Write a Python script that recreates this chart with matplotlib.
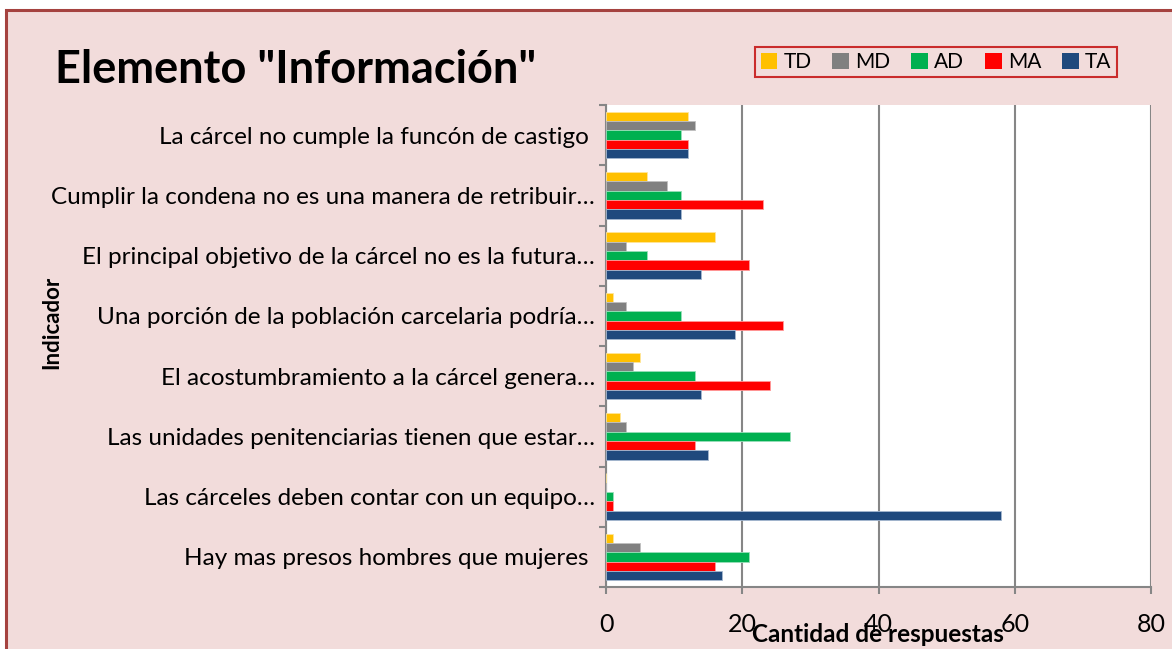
import matplotlib
matplotlib.use("Agg")
import matplotlib.pyplot as plt
from matplotlib.patches import Rectangle, Patch
import numpy as np

categories = [
    "La cárcel no cumple la funcón de castigo ",
    "Cumplir la condena no es una manera de retribuir…",
    "El principal objetivo de la cárcel no es la futura…",
    "Una porción de la población carcelaria podría…",
    "El acostumbramiento a la cárcel genera…",
    "Las unidades penitenciarias tienen que estar…",
    "Las cárceles deben contar con un equipo…",
    "Hay mas presos hombres que mujeres ",
]
series_names = ["TD", "MD", "AD", "MA", "TA"]
TD = [12, 6, 16, 1, 5, 2, 0, 1]
MD = [13, 9, 3, 3, 4, 3, 0, 5]
AD = [11, 11, 6, 11, 13, 27, 1, 21]
MA = [12, 23, 21, 26, 24, 13, 1, 16]
TA = [12, 11, 14, 19, 14, 15, 58, 17]
colors = ["#FFC000", "#808080", "#00B050", "#FF0000", "#1F497D"]
edge_colors = ["#FFE699", "#C0C0C0", "#99DFB9", "#FF9999", "#A5B8D0"]
xticks = [0, 20, 40, 60, 80]

plt.rcParams['font.family'] = ['Lato', 'DejaVu Sans']

W, H = 1172, 649
fig = plt.figure(figsize=(W / 100, H / 100), dpi=100)
fig.patch.set_facecolor("white")

# chart background with border (left/top visible)
bg = Rectangle((6 / W, -0.1), 1.2, 1 - 10 / H + 0.1, transform=fig.transFigure,
               facecolor="#F2DCDB", edgecolor="#A5423F", linewidth=2.2, zorder=-10)
fig.patches.append(bg)

ax = fig.add_axes([606 / W, 1 - 587 / H, (1151 - 606) / W, (587 - 105) / H])
ax.set_facecolor("white")

n = len(categories)
ypos = np.arange(n)[::-1]
group = 0.77
bh = group / 5
data = [TD, MD, AD, MA, TA]
for k, (vals, c, ec) in enumerate(zip(data, colors, edge_colors)):
    off = (2 - k) * bh
    ax.barh(ypos + off, vals, height=bh, color=c, edgecolor=ec, linewidth=0.6, zorder=3)

ax.set_xlim(0, 80)
ax.set_ylim(-0.5, n - 0.5)
ax.set_xticks(xticks)
ax.set_xticklabels([str(t) for t in xticks], fontsize=18)
ax.set_yticks(ypos)
ax.set_yticklabels(categories, fontsize=17.5)
ax.set_yticks(np.arange(-0.5, n, 1.0), minor=True)
ax.tick_params(axis='y', which='major', length=0, pad=8)
ax.tick_params(axis='y', which='minor', length=5, width=1.5, color="#868686")
ax.tick_params(axis='x', which='major', length=5, width=1.5, color="#868686", pad=14)
ax.grid(axis='x', color="#868686", linewidth=1.5, zorder=1)
for s in ["top", "right"]:
    ax.spines[s].set_visible(False)
for s in ["left", "bottom"]:
    ax.spines[s].set_color("#868686")
    ax.spines[s].set_linewidth(1.5)

fig.text(55 / W, 1 - 70 / H, 'Elemento "Información"', fontsize=32.5, fontweight="bold",
         ha="left", va="center")
fig.text(52 / W, 1 - 322 / H, "Indicador", fontsize=16, fontweight="bold",
         rotation=90, ha="center", va="center")
fig.text(878 / W, 1 - 634 / H, "Cantidad de respuestas", fontsize=17.5, fontweight="bold",
         ha="center", va="center")

handles = [Patch(facecolor=c, edgecolor="none") for c in colors]
leg = fig.legend(handles, series_names, loc="center", bbox_to_anchor=(936 / W, 1 - 62 / H),
                 ncol=5, fontsize=15, frameon=True, fancybox=False,
                 handlelength=0.8, handleheight=0.8, handletextpad=0.3,
                 columnspacing=1.0, borderpad=0.25)
leg.get_frame().set_edgecolor("#C00000")
leg.get_frame().set_linewidth(1.5)
leg.get_frame().set_facecolor("#F2DCDB")

fig.savefig("out.png", dpi=100)
